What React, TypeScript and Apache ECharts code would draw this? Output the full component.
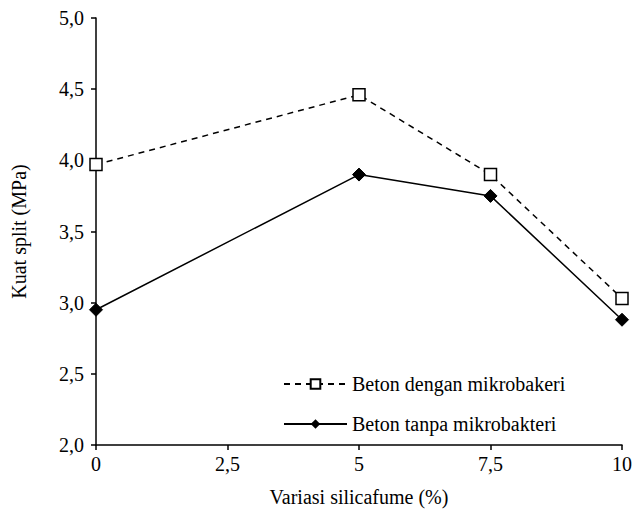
import React, { useEffect, useRef } from "react";
import * as echarts from "echarts";

const xValues = [0, 5, 7.5, 10];
const withBacteria = [3.97, 4.46, 3.9, 3.03];
const withoutBacteria = [2.95, 3.9, 3.75, 2.88];
const seriesNames = ["Beton dengan mikrobakeri", "Beton tanpa mikrobakteri"];

const fmt = (v: number) => String(v).replace(".", ",");

export default function App() {
  const ref = useRef<HTMLDivElement>(null);
  useEffect(() => {
    const chart = echarts.init(ref.current!, null, { renderer: "svg" });
    const font = "Times New Roman, Liberation Serif, serif";
    const fs = 20;
    chart.setOption({
      animation: false,
      textStyle: { fontFamily: font, color: "#000" },
      grid: { left: 88, right: 13, top: 10, bottom: 71, containLabel: false, outerBoundsMode: "none" },
      legend: {
        orient: "vertical",
        left: 270,
        top: 361,
        itemWidth: 63,
        itemHeight: 12,
        itemGap: 20,
        textStyle: { fontFamily: font, fontSize: fs, color: "#000" },
        data: seriesNames,
      },
      xAxis: {
        type: "value",
        min: 0,
        max: 10,
        interval: 2.5,
        name: "Variasi silicafume (%)",
        nameLocation: "middle",
        nameGap: 42,
        nameTextStyle: { fontFamily: font, fontSize: fs, color: "#000" },
        axisLine: { lineStyle: { color: "#000", width: 1.5 } },
        axisTick: { show: true, length: 5, lineStyle: { color: "#000", width: 1.5 } },
        axisLabel: { fontFamily: font, fontSize: fs, color: "#000", formatter: fmt, margin: 9 },
        splitLine: { show: false },
      },
      yAxis: {
        type: "value",
        min: 2,
        max: 5,
        interval: 0.5,
        name: "Kuat split (MPa)",
        nameLocation: "middle",
        nameGap: 67,
        nameTextStyle: { fontFamily: font, fontSize: fs, color: "#000" },
        axisLine: { show: true, lineStyle: { color: "#000", width: 1.5 } },
        axisTick: { show: true, length: 5, lineStyle: { color: "#000", width: 1.5 } },
        axisLabel: {
          fontFamily: font,
          fontSize: fs,
          color: "#000",
          margin: 12,
          formatter: (v: number) => v.toFixed(1).replace(".", ","),
        },
        splitLine: { show: false },
      },
      series: [
        {
          name: seriesNames[0],
          type: "line",
          data: xValues.map((x, i) => [x, withBacteria[i]]),
          symbol: "rect",
          symbolSize: 12,
          lineStyle: { color: "#000", width: 1.5, type: [6, 5] },
          itemStyle: { color: "#fff", borderColor: "#000", borderWidth: 1.5 },
          z: 3,
        },
        {
          name: seriesNames[1],
          type: "line",
          data: xValues.map((x, i) => [x, withoutBacteria[i]]),
          symbol: "diamond",
          symbolSize: 13,
          lineStyle: { color: "#000", width: 1.5 },
          itemStyle: { color: "#000", borderColor: "#000" },
          z: 2,
        },
      ],
    });
    return () => chart.dispose();
  }, []);
  return <div ref={ref} style={{ width: 627, height: 508 }} />;
}
